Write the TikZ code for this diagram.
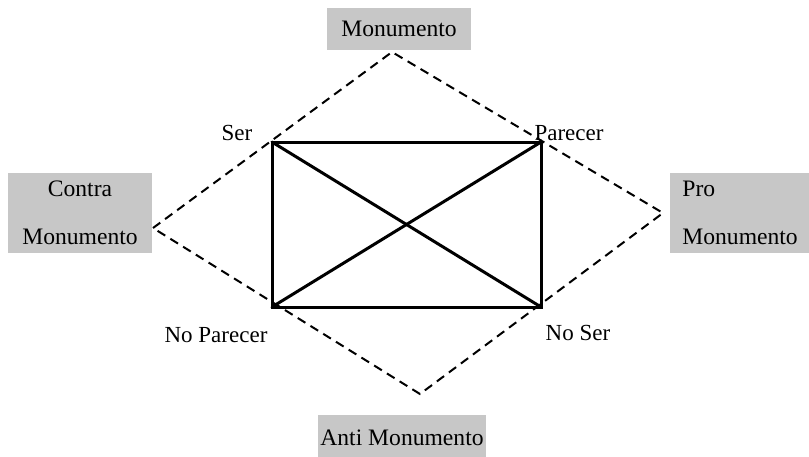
\documentclass[tikz,border=0pt]{standalone}
\usepackage{fontspec}
\setmainfont{Liberation Serif}
\usetikzlibrary{positioning}

\begin{document}
\begin{tikzpicture}[
  x=0.5pt, y=-0.5pt,
  box/.style={rectangle, fill=black!22, inner sep=0pt, font=\fontsize{11.8}{13}\selectfont},
  lbl/.style={inner sep=0pt, font=\fontsize{11.5}{13}\selectfont},
  side/.style={line width=1.5pt, line cap=round},
  diag/.style={line width=1pt, dash pattern=on 4.5pt off 3pt}
]
  \useasboundingbox (0,0) rectangle (809,456);

  % Square
  \coordinate (ser) at (272,142);
  \coordinate (parecer) at (541,142);
  \coordinate (noparecer) at (272,307);
  \coordinate (noser) at (541,307);

  % Diamond
  \coordinate (top) at (392,52);
  \coordinate (left) at (153,228);
  \coordinate (right) at (663,213);
  \coordinate (bottom) at (420,394);

  % Boxes
  \node[box, minimum width=72pt, minimum height=21pt] (mon) at (399,29) {Monumento};
  \node[box, minimum width=72pt, minimum height=40pt, align=center] (contra) at (80,213) {Contra\\[11pt]Monumento};
  \node[box, minimum width=69.5pt, minimum height=40pt, align=left, anchor=west, inner xsep=6pt] (pro) at (670,213) {Pro\\[11pt]Monumento};
  \node[box, minimum width=84pt, minimum height=23pt] (anti) at (402,438) {Anti Monumento};

  % Labels
  \node[lbl] (lser) at (237,133) {Ser};
  \node[lbl] (lparecer) at (569,133) {Parecer};
  \node[lbl] (lnoparecer) at (216,335) {No Parecer};
  \node[lbl] (lnoser) at (578,333) {No Ser};

  % Lines
  \draw[diag] (left) -- (top) -- (right) -- (bottom) -- cycle;
  \draw[side] (ser) -- (parecer) -- (noser) -- (noparecer) -- cycle;
  \draw[side] (ser) -- (noser);
  \draw[side] (parecer) -- (noparecer);
\end{tikzpicture}
\end{document}
